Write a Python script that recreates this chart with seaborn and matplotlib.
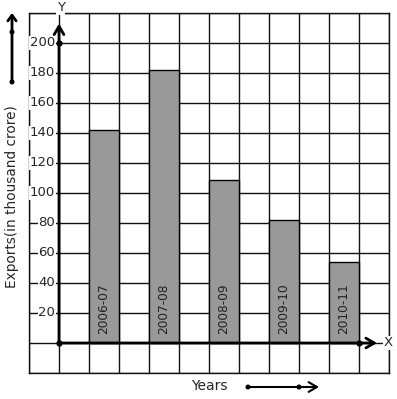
import matplotlib
matplotlib.use("Agg")
import matplotlib.pyplot as plt
import seaborn as sns
import numpy as np
import pandas as pd

years = ["2006-07", "2007-08", "2008-09", "2009-10", "2010-11"]
exports = [142, 182, 109, 82, 54]
yticks = [20, 40, 60, 80, 100, 120, 140, 160, 180, 200]

sns.set_style("white")
plt.rcParams['font.family'] = ['DejaVu Sans']

fig = plt.figure(figsize=(3.97, 3.99), dpi=100)
ax = fig.add_axes([29/397, 26/399, 360/397, 360/399])

df = pd.DataFrame({"year": years, "exports": exports})
sns.barplot(data=df, x="year", y="exports", ax=ax, color="#999999",
            saturation=1, width=0.5, edgecolor="black", linewidth=1, zorder=3)

x0 = -0.75  # position of the y axis in category units (one cell = 0.5)
ax.set_xlim(-1.25, 4.75)
ax.set_ylim(-20, 220)
for gx in np.arange(-1.25, 4.76, 0.5):
    ax.axvline(gx, color="#111111", lw=1, zorder=1)
for gy in np.arange(-20, 221, 20):
    ax.axhline(gy, color="#111111", lw=1, zorder=1)
ax.set_xticks([]); ax.set_yticks([])
ax.set_xlabel(""); ax.set_ylabel("")
for s in ax.spines.values():
    s.set_color("#111111"); s.set_linewidth(1)

# axes with arrows
ax.annotate("", xy=(x0, 213), xytext=(x0, 0), xycoords="data",
            arrowprops=dict(arrowstyle="->,head_length=0.6,head_width=0.35", lw=2, color="black",
                            shrinkA=0, shrinkB=0), zorder=5, annotation_clip=False)
ax.annotate("", xy=(4.55, 0), xytext=(x0, 0), xycoords="data",
            arrowprops=dict(arrowstyle="->,head_length=0.6,head_width=0.35", lw=2, color="black",
                            shrinkA=0, shrinkB=0), zorder=5, annotation_clip=False)
ax.plot([x0, x0, 4.25], [0, 200, 0], 'o', color="black", ms=3.5, zorder=6, clip_on=False)
ax.text(x0 + 0.03, 223.5, "Y", ha="center", va="center", fontsize=9.5,
        bbox=dict(facecolor="white", edgecolor="none", pad=0.5), zorder=7, clip_on=False)
ax.text(4.73, 0, "X", ha="center", va="center", fontsize=9.5,
        bbox=dict(facecolor="white", edgecolor="none", pad=0.3), zorder=7, clip_on=False)

# y tick labels
for v in yticks:
    ax.text(-0.815, v, str(v), ha="right", va="center", fontsize=9.5,
            bbox=dict(facecolor="white", edgecolor="none", pad=0.4), zorder=4)

# labels inside bars
for i, y in enumerate(years):
    ax.text(i, 6, y, rotation=90, ha="center", va="bottom", fontsize=8.7,
            color="#222222", zorder=6)

# y axis title and decorative arrow
fig.text(12/397, 1 - 197/399, "Exports(in thousand crore)", rotation=90,
         ha="center", va="center", fontsize=9.8)
fig.add_artist(matplotlib.patches.FancyArrowPatch((12, 317), (12, 386), transform=None,
               arrowstyle="->,head_length=4,head_width=3", lw=2, color="black",
               shrinkA=0, shrinkB=0))
for yy in (317, 367):
    fig.add_artist(matplotlib.patches.Circle((12, yy), 1.8, transform=None, color="black"))

# x axis title and decorative arrow
fig.text(209.5/397, 13/399, "Years", ha="center", va="center", fontsize=10)
fig.add_artist(matplotlib.patches.FancyArrowPatch((248, 12), (319, 12), transform=None,
               arrowstyle="->,head_length=6,head_width=3.5", lw=1.5, color="black",
               shrinkA=0, shrinkB=0))
for xx in (248, 299):
    fig.add_artist(matplotlib.patches.Circle((xx, 12), 1.8, transform=None, color="black"))

fig.savefig("out.png", dpi=100)
